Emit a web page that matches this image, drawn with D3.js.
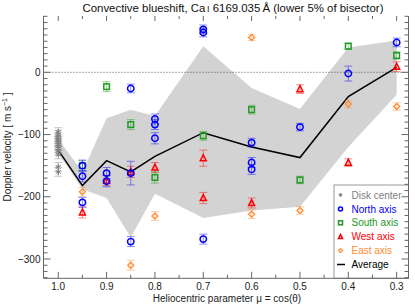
<!DOCTYPE html>
<html><head><meta charset="utf-8">
<script src="https://cdn.jsdelivr.net/npm/d3@7"></script>
<style>
body{margin:0;background:#fff}
svg{display:block}
text{font-family:"Liberation Sans",Arial,Helvetica,sans-serif}
</style>
</head><body>
<svg id="chart" width="415" height="306"></svg>
<script>
// ---------- data ----------
const muGrid    = [1.0, 0.95, 0.9, 0.85, 0.8, 0.7, 0.6, 0.5, 0.4, 0.3];
const bandUpper = [-107, -160, -74, -60, -70, 42, -25, -59, 40, 51];
const bandLower = [-130, -188, -202, -265, -195, -234, -222, -216, -120, -36];
const average   = [-125, -182, -142, -160, -135, -97, -120, -137, -39, 8];

const diskMu  = [1.0,1.0,1.0,1.0,1.0,1.0,1.0,1.0,1.0,1.0,1.0,1.0,1.0];
const diskVel = [-96,-100,-104,-107,-110,-113,-116,-119,-122,-126,-132,-152,-160];
const diskErr = [7,7,7,7,7,7,7,7,7,7,7,7,7];

const northMu  = [0.95,0.95,0.95,0.9,0.9,0.85,0.85,0.85,0.8,0.8,0.8,0.7,0.7,0.7,0.6,0.6,0.6,0.5,0.4,0.3];
const northVel = [-150,-167,-209,-162,-175,-26,-162,-272,-75,-84,-106,69,64,-268,-113,-145,-156,-88,-2,48];
const northErr = [9,9,8,9,9,7,19,8,8,8,9,7,7,8,7,8,8,6,12,7];

const southMu  = [0.95,0.9,0.85,0.8,0.7,0.6,0.5,0.4,0.3];
const southVel = [-150,-23,-84,-169,-102,-60,-173,42,27];
const southErr = [8,8,8,9,7,7,6,5,6];

const westMu  = [0.95,0.9,0.85,0.8,0.7,0.7,0.6,0.5,0.4,0.3];
const westVel = [-225,-174,-160,-153,-138,-202,-210,-27,-145,9];
const westErr = [9,8,9,8,13,9,8,7,6,8];

const eastMu  = [0.95,0.85,0.8,0.6,0.6,0.5,0.4,0.3];
const eastVel = [-192,-310,-231,56,-228,-222,-51,-55];
const eastErr = [7,8,7,5,7,6,6,6];

const xTicks = [1.0,0.9,0.8,0.7,0.6,0.5,0.4,0.3];
const xTickLabels = ["1.0","0.9","0.8","0.7","0.6","0.5","0.4","0.3"];
const yTicks = [0,-100,-200,-300];
const yTickLabels = ["0","\u2212100","\u2212200","\u2212300"];
const legendLabels = ["Disk center","North axis","South axis","West axis","East axis","Average"];

// ---------- layout ----------
const L = 43.5, R = 408.5, T = 16, B = 278.3;
const x = d3.scaleLinear().domain([1.0305, 0.2755]).range([L, R]);
const y = d3.scaleLinear().domain([-331, 90.5]).range([B, T]);

const svg = d3.select("#chart");
const axisColor = "#666";

// band
const bandData = muGrid.map((m,i)=>({m, u:bandUpper[i], l:bandLower[i]}));
svg.append("path")
  .attr("d", d3.area().x(d=>x(d.m)).y0(d=>y(d.l)).y1(d=>y(d.u))(bandData))
  .attr("fill", "#d3d3d3");

// zero line
svg.append("line").attr("x1",L).attr("x2",R).attr("y1",y(0)).attr("y2",y(0))
  .attr("stroke","#444").attr("stroke-width",0.9).attr("stroke-dasharray","1,2");

// average line
svg.append("path")
  .attr("d", d3.line().x((d,i)=>x(muGrid[i])).y(d=>y(d))(average))
  .attr("fill","none").attr("stroke","#000").attr("stroke-width",1.5);

// symbols
function marker(g, type, color, s){
  if(type==="circle"){
    g.append("circle").attr("r",s).attr("fill","none").attr("stroke",color).attr("stroke-width",1.5);
  } else if(type==="square"){
    g.append("rect").attr("x",-s).attr("y",-s).attr("width",2*s).attr("height",2*s)
      .attr("fill","none").attr("stroke",color).attr("stroke-width",1.5);
  } else if(type==="triangle"){
    const h = s*1.15;
    g.append("path").attr("d",`M0,${-h} L${s},${h*0.75} L${-s},${h*0.75} Z`)
      .attr("fill","none").attr("stroke",color).attr("stroke-width",1.5);
  } else if(type==="diamond"){
    g.append("path").attr("d",`M0,${-s} L${s},0 L0,${s} L${-s},0 Z`)
      .attr("fill","none").attr("stroke",color).attr("stroke-width",1.3);
  } else if(type==="asterisk"){
    const p = [];
    for(let k=0;k<3;k++){
      const a = Math.PI/2 + k*Math.PI/3;
      p.push(`M${s*Math.cos(a)},${s*Math.sin(a)} L${-s*Math.cos(a)},${-s*Math.sin(a)}`);
    }
    g.append("path").attr("d",p.join(" ")).attr("stroke",color).attr("stroke-width",1.1).attr("fill","none");
  }
}

function series(mus, vels, errs, type, color, s){
  const grp = svg.append("g");
  mus.forEach((m,i)=>{
    const cx = x(m), v = vels[i], e = errs[i];
    const eg = grp.append("g").attr("stroke",color).attr("stroke-opacity",0.45).attr("stroke-width",1);
    eg.append("line").attr("x1",cx).attr("x2",cx).attr("y1",y(v+e)).attr("y2",y(v-e));
    eg.append("line").attr("x1",cx-4).attr("x2",cx+4).attr("y1",y(v+e)).attr("y2",y(v+e));
    eg.append("line").attr("x1",cx-4).attr("x2",cx+4).attr("y1",y(v-e)).attr("y2",y(v-e));
    const mg = grp.append("g").attr("transform",`translate(${cx},${y(v)})`);
    marker(mg, type, color, s);
  });
}

const cGray="#808080", cBlue="#0000ff", cGreen="#229922", cRed="#ff0000", cOrange="#ff8c33";
series(diskMu, diskVel, diskErr, "asterisk", cGray, 3);
series(eastMu, eastVel, eastErr, "diamond", cOrange, 3);
series(westMu, westVel, westErr, "triangle", cRed, 3);
series(southMu, southVel, southErr, "square", cGreen, 2.8);
series(northMu, northVel, northErr, "circle", cBlue, 3.2);

// legend
const lg = svg.append("g");
lg.append("rect").attr("x",334).attr("y",185).attr("width",R-334).attr("height",B-185)
  .attr("fill","#fff").attr("stroke","#999").attr("stroke-width",1);
const legTypes = ["asterisk","circle","square","triangle","diamond","line"];
const legColors = [cGray,cBlue,cGreen,cRed,cOrange,"#000"];
legendLabels.forEach((lab,i)=>{
  const cy = 195 + i*13.9;
  const g = lg.append("g").attr("transform",`translate(340.5,${cy})`);
  if(legTypes[i]==="line"){
    g.append("line").attr("x1",-3.5).attr("x2",4.5).attr("y1",0).attr("y2",0).attr("stroke","#000").attr("stroke-width",1.5);
  } else {
    marker(g, legTypes[i], legColors[i], 2);
  }
  lg.append("text").attr("x",351.5).attr("y",cy+3.6).attr("font-size",10)
    .attr("fill",legColors[i]).text(lab);
});

// axes
const ax = svg.append("g").attr("stroke",axisColor).attr("stroke-width",1).attr("fill","none");
ax.append("line").attr("x1",L).attr("x2",L).attr("y1",T).attr("y2",B);
ax.append("line").attr("x1",R).attr("x2",R).attr("y1",T).attr("y2",B);
ax.append("line").attr("x1",L).attr("x2",R).attr("y1",B).attr("y2",B);

const xMinor = d3.range(1.0, 0.27, -0.05).map(v=>+v.toFixed(2));
xMinor.forEach(v=>{
  const major = xTicks.some(t=>Math.abs(t-v)<1e-6);
  const len = major ? 6.5 : 3.5;
  const tl = major ? 5 : 3;
  ax.append("line").attr("x1",x(v)).attr("x2",x(v)).attr("y1",B).attr("y2",B-len);
  ax.append("line").attr("x1",x(v)).attr("x2",x(v)).attr("y1",T).attr("y2",T+tl);
});
const yMinor = d3.range(-330, 91, 10);
yMinor.forEach(v=>{
  const major = yTicks.includes(v);
  const len = major ? 7 : 4;
  ax.append("line").attr("x1",L).attr("x2",L+len).attr("y1",y(v)).attr("y2",y(v));
  ax.append("line").attr("x1",R).attr("x2",R-len).attr("y1",y(v)).attr("y2",y(v));
});

// tick labels
xTicks.forEach((t,i)=>{
  svg.append("text").attr("x",x(t)).attr("y",290).attr("text-anchor","middle")
    .attr("font-size",10).attr("fill","#222").text(xTickLabels[i]);
});
yTicks.forEach((t,i)=>{
  svg.append("text").attr("x",40.5).attr("y",y(t)+3.6).attr("text-anchor","end")
    .attr("font-size",10).attr("fill","#222").text(yTickLabels[i]);
});

// axis titles
svg.append("text").attr("x",227).attr("y",302).attr("text-anchor","middle")
  .attr("font-size",10).attr("fill","#222").text("Heliocentric parameter \u03bc = cos(\u03b8)");
const yl = svg.append("text").attr("transform","translate(10.5,147) rotate(-90)")
  .attr("text-anchor","middle").attr("font-size",10).attr("fill","#222");
yl.append("tspan").text("Doppler velocity [ m s");
yl.append("tspan").attr("font-size",7).attr("dy",-4).text("\u22121");
yl.append("tspan").attr("dy",4).text(" ]");

// title
const tt = svg.append("text").attr("x",233).attr("y",11.5).attr("text-anchor","middle")
  .attr("font-size",11.4).attr("fill","#111");
tt.append("tspan").text("Convective blueshift, Ca");
tt.append("tspan").attr("font-size",8.8).text("\u2009I");
tt.append("tspan").text(" 6169.035\u2009\u00c5 (lower 5% of bisector)");
</script>
</body></html>
